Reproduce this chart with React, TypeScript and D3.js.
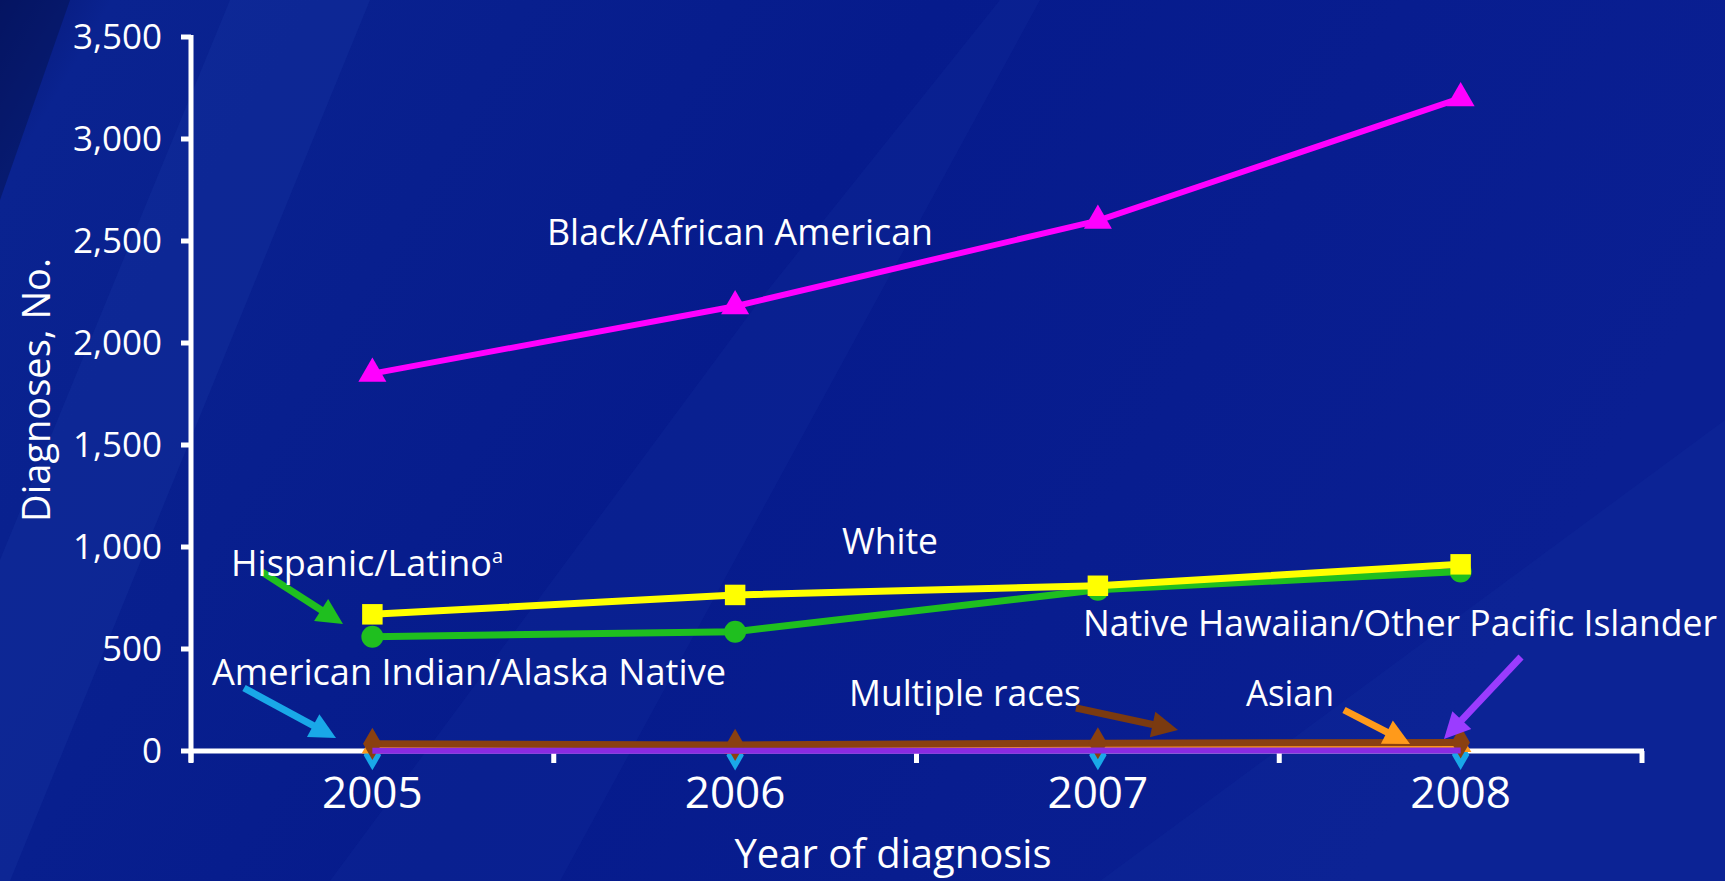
import React from "react";
import * as d3 from "d3";

const years = ["2005", "2006", "2007", "2008"];
const yTicks = [0, 500, 1000, 1500, 2000, 2500, 3000, 3500];

const black = [1850, 2180, 2600, 3200];
const white = [670, 765, 810, 915];
const hispanic = [560, 585, 790, 880];
const multiple = [35, 30, 38, 42];
const asian = [18, 16, 20, 25];
const aian = [8, 7, 8, 10];
const nhopi = [1, 1, 2, 2];

const W = 1725;
const H = 881;
const FONT = "'Open Sans', 'Noto Sans', sans-serif";

export default function App() {
  const x = d3.scalePoint<string>().domain(years).range([191, 1642]).padding(0.5);
  const y = d3.scaleLinear().domain([0, 3500]).range([751, 37]);
  const step = x.step();

  const series = [
    { name: "aian", values: aian, color: "#19a8e8", marker: "diamond", w: 5 },
    { name: "asian", values: asian, color: "#ff9a1a", marker: "triangle", w: 5 },
    { name: "multiple", values: multiple, color: "#8a4010", marker: "diamond", w: 7 },
    { name: "nhopi", values: nhopi, color: "#8a2be2", marker: "none", w: 6 },
    { name: "hispanic", values: hispanic, color: "#1fbf1f", marker: "circle", w: 7 },
    { name: "white", values: white, color: "#ffff00", marker: "square", w: 7 },
    { name: "black", values: black, color: "#ff00ff", marker: "triangle", w: 6 },
  ];

  const line = d3
    .line<number>()
    .x((_, i) => x(years[i]) as number)
    .y((v) => y(v));

  const sym = (m: string, name: string) => {
    const t =
      m === "triangle"
        ? d3.symbolTriangle
        : m === "square"
        ? d3.symbolSquare
        : m === "circle"
        ? d3.symbolCircle
        : d3.symbolDiamond;
    let size = m === "triangle" ? 340 : m === "square" ? 420 : m === "circle" ? 380 : 300;
    if (name === "asian") size = 200;
    if (name === "aian") size = 260;
    return d3.symbol().type(t).size(size)() as string;
  };

  const arrows = [
    { x1: 262, y1: 572, x2: 343, y2: 624, color: "#1fbf1f" },
    { x1: 244, y1: 688, x2: 336, y2: 738, color: "#19a8e8" },
    { x1: 1076, y1: 708, x2: 1178, y2: 730, color: "#7a3a10" },
    { x1: 1344, y1: 710, x2: 1410, y2: 744, color: "#ff9a1a" },
    { x1: 1521, y1: 657, x2: 1444, y2: 739, color: "#9b3cff" },
  ];

  const arrowHead = (a: any) => {
    const ang = Math.atan2(a.y2 - a.y1, a.x2 - a.x1);
    const len = 26;
    const w = 13;
    const bx = a.x2 - len * Math.cos(ang);
    const by = a.y2 - len * Math.sin(ang);
    const px = -Math.sin(ang) * w;
    const py = Math.cos(ang) * w;
    return `M${a.x2},${a.y2}L${bx + px},${by + py}L${bx - px},${by - py}Z`;
  };
  const shaftEnd = (a: any) => {
    const ang = Math.atan2(a.y2 - a.y1, a.x2 - a.x1);
    return { x: a.x2 - 20 * Math.cos(ang), y: a.y2 - 20 * Math.sin(ang) };
  };

  const labels = [
    { text: "Black/African American", x: 547, y: 245, len: 386 },
    { text: "White", x: 842, y: 554, len: 96 },
    { text: "American Indian/Alaska Native", x: 212, y: 685, len: 514 },
    { text: "Native Hawaiian/Other Pacific Islander", x: 1083, y: 636, len: 634 },
    { text: "Multiple races", x: 849, y: 706, len: 232 },
    { text: "Asian", x: 1246, y: 706, len: 88 },
  ];

  return (
    <svg
      width={W}
      height={H}
      style={{ position: "absolute", left: 0, top: 0, display: "block" }}
    >
      <defs>
        <linearGradient id="bg" x1="0" y1="0" x2="1" y2="0.3">
          <stop offset="0" stopColor="#061774" />
          <stop offset="0.06" stopColor="#0a2390" />
          <stop offset="0.5" stopColor="#061b8c" />
          <stop offset="1" stopColor="#0a1f92" />
        </linearGradient>
      </defs>
      <rect x={0} y={0} width={W} height={H} fill="url(#bg)" />
      <polygon points="0,0 70,0 0,200" fill="#04124f" opacity={0.5} />
      <polygon points="230,0 370,0 10,881 0,881 0,560" fill="#1a3aa8" opacity={0.25} />
      <polygon points="330,881 760,300 1000,0 1040,0 560,881" fill="#1a3aa8" opacity={0.18} />
      <polygon points="1100,881 1725,420 1725,881" fill="#1a3aa8" opacity={0.15} />

      {/* y axis */}
      <line x1={191} x2={191} y1={35} y2={762} stroke="#fff" strokeWidth={5} />
      {yTicks.map((t) => (
        <g key={t}>
          <line x1={181} x2={191} y1={y(t)} y2={y(t)} stroke="#fff" strokeWidth={5} />
          <text
            x={162}
            y={y(t)}
            dy="0.35em"
            textAnchor="end"
            fill="#fff"
            fontFamily={FONT}
            fontSize={35}
          >
            {d3.format(",")(t)}
          </text>
        </g>
      ))}

      {/* x axis */}
      <line x1={189} x2={1644} y1={751} y2={751} stroke="#fff" strokeWidth={5} />
      {d3.range(years.length + 1).map((k) => (
        <line
          key={k}
          x1={191 + k * step}
          x2={191 + k * step}
          y1={751}
          y2={763}
          stroke="#fff"
          strokeWidth={5}
        />
      ))}
      {years.map((yr) => (
        <text
          key={yr}
          x={x(yr)}
          y={808}
          textAnchor="middle"
          fill="#fff"
          fontFamily={FONT}
          fontSize={44}
        >
          {yr}
        </text>
      ))}
      <text
        x={893}
        y={868}
        textAnchor="middle"
        fill="#fff"
        fontFamily={FONT}
        fontSize={40}
      >
        Year of diagnosis
      </text>
      <text
        transform="translate(50,390) rotate(-90)"
        textAnchor="middle"
        fill="#fff"
        fontFamily={FONT}
        fontSize={38}
      >
        Diagnoses, No.
      </text>

      {/* series */}
      {series.map((s) => (
        <g key={s.name}>
          <path d={line(s.values) as string} fill="none" stroke={s.color} strokeWidth={s.w} />
          {s.marker !== "none" &&
            s.values.map((v, i) => (
              <path
                key={i}
                d={sym(s.marker, s.name)}
                transform={`translate(${x(years[i])},${y(v) + (s.name === "aian" ? 6 : 0)})`}
                fill={s.color}
              />
            ))}
        </g>
      ))}

      {/* arrows */}
      {arrows.map((a, i) => {
        const e = shaftEnd(a);
        return (
          <g key={i}>
            <line x1={a.x1} y1={a.y1} x2={e.x} y2={e.y} stroke={a.color} strokeWidth={7} />
            <path d={arrowHead(a)} fill={a.color} />
          </g>
        );
      })}

      {/* labels */}
      {labels.map((l) => (
        <text
          key={l.text}
          x={l.x}
          y={l.y}
          fill="#fff"
          fontFamily={FONT}
          fontSize={36}
          textLength={l.len}
          lengthAdjust="spacingAndGlyphs"
        >
          {l.text}
        </text>
      ))}
      <text x={231} y={576} fill="#fff" fontFamily={FONT} fontSize={36}>
        Hispanic/Latino
        <tspan fontSize={20} dy={-13}>
          a
        </tspan>
      </text>
    </svg>
  );
}
